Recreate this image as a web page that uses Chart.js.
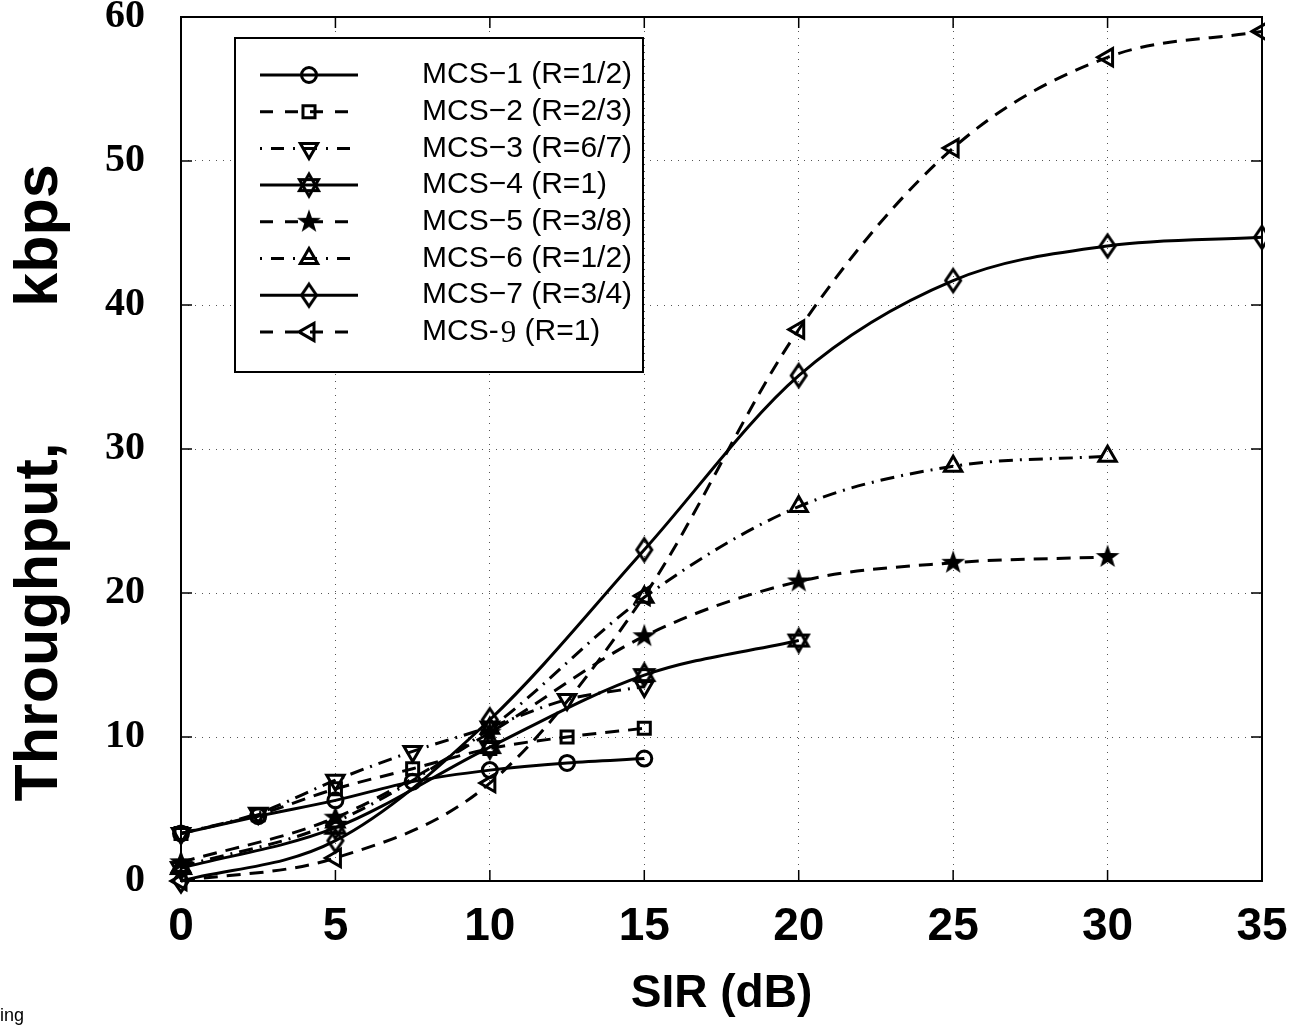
<!DOCTYPE html>
<html>
<head>
<meta charset="utf-8">
<script src="https://cdn.jsdelivr.net/npm/chart.js@4.4.1/dist/chart.umd.min.js"></script>
<style>
  html, body { margin: 0; padding: 0; background: #fff; }
  #wrap { width: 1291px; height: 1025px; }
</style>
</head>
<body>
<div id="wrap"><canvas id="c" width="1291" height="1025"></canvas></div>
<script>
// SIR grids (dB) used by the different curves
const sirA = [0, 2.5, 5, 7.5, 10, 12.5, 15];
const sirB = [0, 5, 10, 15, 20];
const sirC = [0, 5, 10, 15, 20, 25, 30];
const sirD = [0, 5, 10, 15, 20, 25, 30, 35];

// throughput, kbps
const mcs1 = [3.3, 4.5, 5.6, 6.9, 7.7, 8.2, 8.5];
const mcs2 = [3.3, 4.6, 6.4, 7.8, 9.2, 10.0, 10.6];
const mcs3 = [3.3, 4.7, 7.0, 9.0, 10.7, 12.6, 13.5];
const mcs4 = [0.9, 3.7, 9.3, 14.3, 16.7];
const mcs5 = [1.3, 4.4, 10.3, 17.0, 20.8, 22.1, 22.5];
const mcs6 = [1.0, 4.1, 10.6, 19.7, 26.0, 28.8, 29.5];
const mcs7 = [0.0, 2.8, 11.2, 23.0, 35.1, 41.7, 44.1, 44.7];
const mcs9 = [0.0, 1.6, 6.8, 19.8, 38.3, 50.9, 57.2, 59.0];

const seriesLabels = [
  'MCS\u22121 (R=1/2)', 'MCS\u22122 (R=2/3)', 'MCS\u22123 (R=6/7)', 'MCS\u22124 (R=1)',
  'MCS\u22125 (R=3/8)', 'MCS\u22126 (R=1/2)', 'MCS\u22127 (R=3/4)', 'MCS-9 (R=1)'
];
const xTicks = [0, 5, 10, 15, 20, 25, 30, 35];
const yTicks = [0, 10, 20, 30, 40, 50, 60];

// ─── marker images ────────────────────────────────────────────
function makeMarker(size, draw) {
  const c = document.createElement('canvas');
  c.width = c.height = size;
  const g = c.getContext('2d');
  g.translate(size / 2, size / 2);
  g.strokeStyle = '#000';
  g.fillStyle = '#000';
  draw(g);
  return c;
}

const hexStar = makeMarker(30, g => {
  g.lineWidth = 3;
  const r = 11;
  for (const rot of [-Math.PI / 2, Math.PI / 2]) {
    g.beginPath();
    for (let k = 0; k < 3; k++) {
      const a = rot + k * 2 * Math.PI / 3;
      g.lineTo(r * Math.cos(a), r * Math.sin(a));
    }
    g.closePath();
    g.stroke();
  }
});

const fiveStar = makeMarker(30, g => {
  g.beginPath();
  for (let k = 0; k < 10; k++) {
    const a = -Math.PI / 2 + k * Math.PI / 5;
    const r = k % 2 === 0 ? 12.5 : 5;
    g.lineTo(r * Math.cos(a), r * Math.sin(a));
  }
  g.closePath();
  g.fill();
});

const diamond = makeMarker(30, g => {
  g.lineWidth = 3;
  g.beginPath();
  g.moveTo(0, -11); g.lineTo(7.5, 0); g.lineTo(0, 11); g.lineTo(-7.5, 0);
  g.closePath();
  g.stroke();
});

const DASH = [14, 9];
const DASHDOT = [14, 7, 2, 7];

function pts(xs, ys) {
  return xs.map((x, i) => ({ x, y: ys[i] }));
}

function series(label, xs, ys, dash, style, rotation, radius) {
  return {
    label,
    data: pts(xs, ys),
    borderColor: '#000',
    borderWidth: 3,
    borderDash: dash,
    backgroundColor: 'rgba(0,0,0,0)',
    pointStyle: style,
    pointRotation: rotation || 0,
    pointRadius: radius || 8,
    pointBorderWidth: 3,
    pointBorderColor: '#000',
    pointBackgroundColor: 'rgba(0,0,0,0)',
    cubicInterpolationMode: 'monotone',
    fill: false,
    clip: { left: 20, top: 20, right: 3, bottom: 20 },
  };
}

const datasets = [
  series(seriesLabels[0], sirA, mcs1, [], 'circle', 0, 7.5),
  series(seriesLabels[1], sirA, mcs2, DASH, 'rect', 0, 8.5),
  series(seriesLabels[2], sirA, mcs3, DASHDOT, 'triangle', 180, 10),
  series(seriesLabels[3], sirB, mcs4, [], hexStar),
  series(seriesLabels[4], sirC, mcs5, DASH, fiveStar),
  series(seriesLabels[5], sirC, mcs6, DASHDOT, 'triangle', 0, 10),
  series(seriesLabels[6], sirD, mcs7, [], diamond),
  series(seriesLabels[7], sirD, mcs9, DASH, 'triangle', 270, 10),
];

// keep label overhang from pushing the plot area around
function noPad(s) {
  s.paddingTop = 0; s.paddingBottom = 0; s.paddingLeft = 0; s.paddingRight = 0;
}

// ─── plot frame with inward ticks ─────────────────────────────
const frame = {
  id: 'frame',
  afterDraw(chart) {
    const { ctx, chartArea: a, scales } = chart;
    ctx.save();
    ctx.strokeStyle = '#000';
    ctx.lineWidth = 2;
    ctx.setLineDash([]);
    ctx.strokeRect(a.left, a.top, a.right - a.left, a.bottom - a.top);
    ctx.lineWidth = 1.5;
    const len = 11;
    ctx.beginPath();
    for (const v of yTicks) {
      const y = scales.y.getPixelForValue(v);
      ctx.moveTo(a.left, y); ctx.lineTo(a.left + len, y);
      ctx.moveTo(a.right, y); ctx.lineTo(a.right - len, y);
    }
    for (const v of xTicks) {
      const x = scales.x.getPixelForValue(v);
      ctx.moveTo(x, a.bottom); ctx.lineTo(x, a.bottom - len);
      ctx.moveTo(x, a.top); ctx.lineTo(x, a.top + len);
    }
    ctx.stroke();
    // stray caption fragment at the page corner
    ctx.fillStyle = '#000';
    ctx.font = '18px "Liberation Sans", Arial, sans-serif';
    ctx.textBaseline = 'alphabetic';
    ctx.textAlign = 'left';
    ctx.fillText('ing', 0, 1021);
    ctx.restore();
  }
};

// ─── boxed legend inside the plot ─────────────────────────────
const boxLegend = {
  id: 'boxLegend',
  afterDraw(chart) {
    const { ctx, chartArea: a } = chart;
    const left = a.left + 54, top = a.top + 21, w = 408, h = 334;
    ctx.save();
    ctx.fillStyle = '#fff';
    ctx.fillRect(left, top, w, h);
    ctx.strokeStyle = '#000';
    ctx.lineWidth = 2;
    ctx.setLineDash([]);
    ctx.strokeRect(left, top, w, h);

    const rowH = 36.7;
    chart.data.datasets.forEach((ds, i) => {
      const y = top + 37 + i * rowH;
      const x0 = left + 25, x1 = left + 123, xm = left + 74;
      ctx.lineWidth = 3;
      ctx.strokeStyle = '#000';
      if (ds.borderDash.length > 2) ctx.setLineDash([2, 9, 13, 9]);
      else if (ds.borderDash.length) ctx.setLineDash([13, 12]);
      else ctx.setLineDash([]);
      ctx.beginPath();
      ctx.moveTo(x0, y); ctx.lineTo(x1, y);
      ctx.stroke();
      ctx.setLineDash([]);
      ctx.fillStyle = 'rgba(0,0,0,0)';
      ctx.lineWidth = ds.pointBorderWidth;
      Chart.helpers.drawPoint(ctx, {
        pointStyle: ds.pointStyle,
        rotation: ds.pointRotation,
        radius: ds.pointRadius,
        borderWidth: ds.pointBorderWidth,
      }, xm, y);

      ctx.fillStyle = '#000';
      ctx.textBaseline = 'middle';
      ctx.textAlign = 'left';
      const sans = '30px "Liberation Sans", Arial, sans-serif';
      const m = /^(MCS-)(\d)(.*)$/.exec(ds.label);
      let tx = left + 187;
      if (m) {
        ctx.font = sans;
        ctx.fillText(m[1], tx, y);
        tx += ctx.measureText(m[1]).width + 2;
        ctx.font = '31px "Liberation Serif", "Times New Roman", serif';
        ctx.fillText(m[2], tx, y + 2);
        tx += ctx.measureText(m[2]).width;
        ctx.font = sans;
        ctx.fillText(m[3], tx, y);
      } else {
        ctx.font = sans;
        ctx.fillText(ds.label, tx, y);
      }
    });
    ctx.restore();
  }
};

new Chart(document.getElementById('c'), {
  type: 'line',
  data: { datasets },
  plugins: [frame, boxLegend],
  options: {
    responsive: false,
    animation: false,
    devicePixelRatio: 1,
    layout: { padding: { top: 17, right: 29, bottom: 0, left: 0 } },
    plugins: { legend: { display: false }, tooltip: { enabled: false } },
    scales: {
      x: {
        type: 'linear',
        min: 0, max: 35,
        afterFit: s => { s.height = 144; noPad(s); },
        afterBuildTicks: s => { s.ticks = xTicks.map(v => ({ value: v })); },
        grid: { color: '#555', lineWidth: 1, borderDash: [1, 6], drawTicks: false },
        border: { display: false, dash: [1, 6] },
        ticks: {
          color: '#000', padding: 23, maxRotation: 0,
          font: { family: '"Liberation Sans", Arial, sans-serif', size: 46, weight: 'bold', lineHeight: 1 },
        },
        title: {
          display: true, text: 'SIR (dB)', color: '#000',
          padding: { top: 0, bottom: 8 },
          font: { family: '"Liberation Sans", Arial, sans-serif', size: 46, weight: 'bold', lineHeight: 1 },
        },
      },
      y: {
        min: 0, max: 60,
        afterFit: s => { s.width = 181; noPad(s); },
        afterBuildTicks: s => { s.ticks = yTicks.map(v => ({ value: v })); },
        grid: { color: '#555', lineWidth: 1, borderDash: [1, 6], drawTicks: false },
        border: { display: false, dash: [1, 6] },
        ticks: {
          color: '#000', padding: 36,
          font: { family: '"Liberation Serif", "Times New Roman", serif', size: 40, weight: 'bold', lineHeight: 0.8 },
        },
        title: {
          display: true, text: 'Throughput,        kbps    ', color: '#000',
          padding: { top: 10, bottom: 0 },
          font: { family: '"Liberation Sans", Arial, sans-serif', size: 61, weight: 'bold', lineHeight: 1 },
        },
      },
    },
  },
});
</script>
</body>
</html>
